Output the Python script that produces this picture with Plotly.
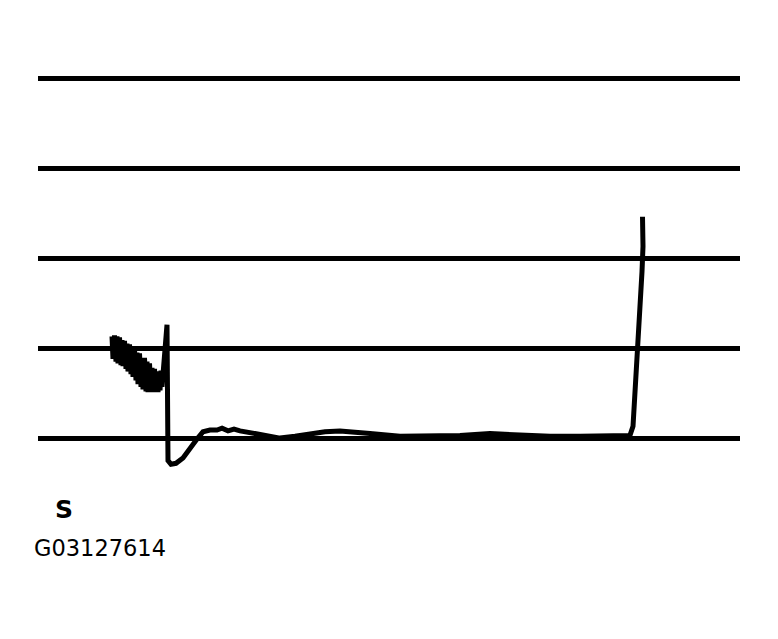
import plotly.graph_objects as go

# time (arbitrary units) and signal level (grid divisions of 10)
time = [7.4, 7.5, 7.65, 7.8, 7.9, 8.0, 8.15, 8.3, 8.4, 8.5, 8.65, 8.8, 8.9, 9.0, 9.15,
        9.3, 9.4, 9.5, 9.65, 9.8, 9.9, 10.0, 10.15, 10.3, 10.4, 10.5, 10.65, 10.8, 10.9,
        11.0, 11.15, 11.3, 11.4, 11.5, 11.65, 11.8, 11.9, 12.0, 12.1, 12.2, 12.3, 12.4,
        12.9, 13.0, 13.3, 13.8, 14.5, 15.2, 15.9, 16.5, 17.2, 17.9, 18.4, 19.0, 19.6,
        20.2, 21.2, 22.7, 24.2, 25.7, 27.2, 28.7, 30.2, 31.7, 33.2, 36.2, 39.2, 42.2,
        45.2, 48.2, 51.2, 54.2, 57.2, 59.2, 59.5, 59.7, 59.9, 60.1, 60.3, 60.4, 60.5, 60.45]
signal = [11.4, 8.9, 11.5, 8.6, 11.4, 8.4, 11.3, 8.2, 11.0, 8.1, 10.9, 7.8, 10.6, 7.5, 10.5,
          7.2, 10.1, 6.9, 10.0, 6.5, 9.6, 6.1, 9.5, 5.8, 9.0, 5.5, 9.0, 5.3, 8.6,
          5.2, 8.4, 5.2, 7.9, 5.2, 7.8, 5.2, 7.4, 5.2, 7.5, 5.4, 7.6, 5.8,
          12.7, -2.4, -2.8, -2.7, -2.1, -1.0, 0.0, 0.8, 1.0, 1.0, 1.2, 0.9, 1.1,
          0.9, 0.7, 0.3, 0.1, 0.3, 0.6, 0.8, 0.9, 0.8, 0.6, 0.3, 0.3, 0.4,
          0.6, 0.4, 0.3, 0.3, 0.3, 0.4, 1.4, 4.8, 8.6, 12.0, 15.3, 18.6, 21.4, 24.7]
grid_levels = [0, 10, 20, 30, 40]

fig = go.Figure()
fig.add_trace(go.Scatter(x=time, y=signal, mode="lines",
                         line=dict(color="black", width=5), hoverinfo="skip",
                         cliponaxis=False))

fig.update_layout(
    width=778, height=639,
    margin=dict(l=30, r=46, t=66, b=162.5),
    paper_bgcolor="white", plot_bgcolor="white",
    showlegend=False,
    xaxis=dict(range=[0, 70.2], showgrid=False, zeroline=False, showticklabels=False,
               showline=False, ticks=""),
    yaxis=dict(range=[-5, 40.55], tickvals=grid_levels, showgrid=True,
               gridcolor="black", gridwidth=4.5, zeroline=False,
               showticklabels=False, showline=False, ticks=""),
    annotations=[
        dict(text="<b>S</b>", x=0.037, y=-0.061, xref="paper", yref="paper",
             showarrow=False, xanchor="center", yanchor="middle",
             font=dict(family="DejaVu Sans", size=25, color="black")),
        dict(text="G03127614", x=-0.0085, y=-0.157, xref="paper", yref="paper",
             showarrow=False, xanchor="left", yanchor="middle",
             font=dict(family="DejaVu Sans", size=22.5, color="black")),
    ],
)

fig.write_html("out.html")
